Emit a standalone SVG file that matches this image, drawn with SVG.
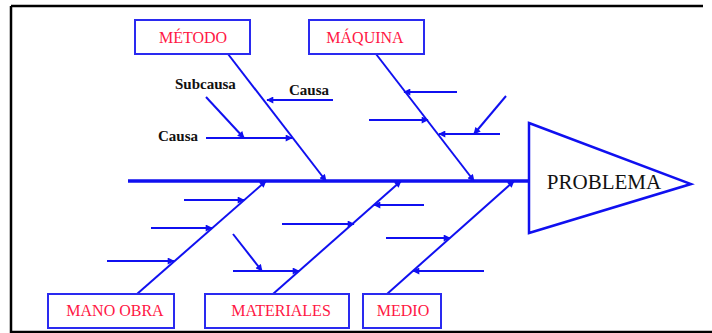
<svg xmlns="http://www.w3.org/2000/svg" width="712" height="333" viewBox="0 0 712 333">
<defs>
<marker id="ah" viewBox="0 0 10 10" refX="9" refY="5" markerWidth="8" markerHeight="7" orient="auto" markerUnits="userSpaceOnUse">
<path d="M0,0 L10,5 L0,10 z" fill="#1010f0"/>
</marker>
<style>
.frame{stroke:#000;stroke-width:2.5;fill:none}
.box{fill:#fff;stroke:#2a2af0;stroke-width:2}
.lbl{font-family:"Liberation Serif","Times New Roman",serif;font-size:16px;fill:#ff1744;text-anchor:middle}
.cz{font-family:"Liberation Serif","Times New Roman",serif;font-size:15px;font-weight:bold;fill:#111}
.arr{stroke:#1010f0;stroke-width:2;fill:none;marker-end:url(#ah)}
.spine{stroke:#1010f0;stroke-width:3.5;fill:none}
</style>
</defs>
<rect width="712" height="333" fill="#fff"/>
<g id="frame">
<path class="frame" d="M11,6 H703 M11,6 V332 H712"/>
</g>
<g id="connectors">
<line class="spine" x1="128" y1="181" x2="530" y2="181"/>
<line class="arr" x1="228" y1="54" x2="326" y2="181"/>
<line class="arr" x1="376" y1="54" x2="474" y2="181"/>
<line class="arr" x1="137" y1="294" x2="266" y2="181"/>
<line class="arr" x1="273" y1="294" x2="401" y2="181"/>
<line class="arr" x1="387" y1="294" x2="514" y2="181"/>
<line class="arr" x1="333" y1="100" x2="267" y2="100"/>
<line class="arr" x1="206" y1="138" x2="292" y2="138"/>
<line class="arr" x1="206" y1="97" x2="244" y2="138"/>
<line class="arr" x1="457" y1="92" x2="404" y2="92"/>
<line class="arr" x1="369" y1="120" x2="428" y2="120"/>
<line class="arr" x1="500" y1="134" x2="439" y2="134"/>
<line class="arr" x1="506" y1="96" x2="474" y2="134"/>
<line class="arr" x1="184" y1="200" x2="244" y2="200"/>
<line class="arr" x1="151" y1="228" x2="212" y2="228"/>
<line class="arr" x1="107" y1="261" x2="174" y2="261"/>
<line class="arr" x1="282" y1="224" x2="354" y2="224"/>
<line class="arr" x1="233" y1="271" x2="299" y2="271"/>
<line class="arr" x1="233" y1="234" x2="262" y2="271"/>
<line class="arr" x1="424" y1="205" x2="374" y2="205"/>
<line class="arr" x1="386" y1="238" x2="450" y2="238"/>
<line class="arr" x1="484" y1="271" x2="413" y2="271"/>
</g>
<g id="labels">
<text class="cz" x="175" y="89">Subcausa</text>
<text class="cz" x="289" y="95">Causa</text>
<text class="cz" x="158" y="141">Causa</text>
</g>
<g id="metodo">
<rect class="box" x="135" y="20" width="115" height="34"/>
<text class="lbl" x="193" y="42.5">MÉTODO</text>
</g>
<g id="maquina">
<rect class="box" x="309" y="20" width="115" height="34"/>
<text class="lbl" x="365" y="42.5">MÁQUINA</text>
</g>
<g id="problema">
<polygon points="529,123 691,184 529,233" fill="#fff" stroke="#1010f0" stroke-width="2.5" stroke-linejoin="miter"/>
<text x="604" y="189" font-family="Liberation Serif, Times New Roman, serif" font-size="21" fill="#111" text-anchor="middle">PROBLEMA</text>
</g>
<g id="mano-obra">
<rect class="box" x="48" y="294" width="126" height="34"/>
<text class="lbl" x="115" y="316">MANO OBRA</text>
</g>
<g id="materiales">
<rect class="box" x="205" y="294" width="144" height="34"/>
<text class="lbl" x="281" y="316">MATERIALES</text>
</g>
<g id="medio">
<rect class="box" x="363" y="294" width="78" height="34"/>
<text class="lbl" x="403" y="316">MEDIO</text>
</g>
</svg>
